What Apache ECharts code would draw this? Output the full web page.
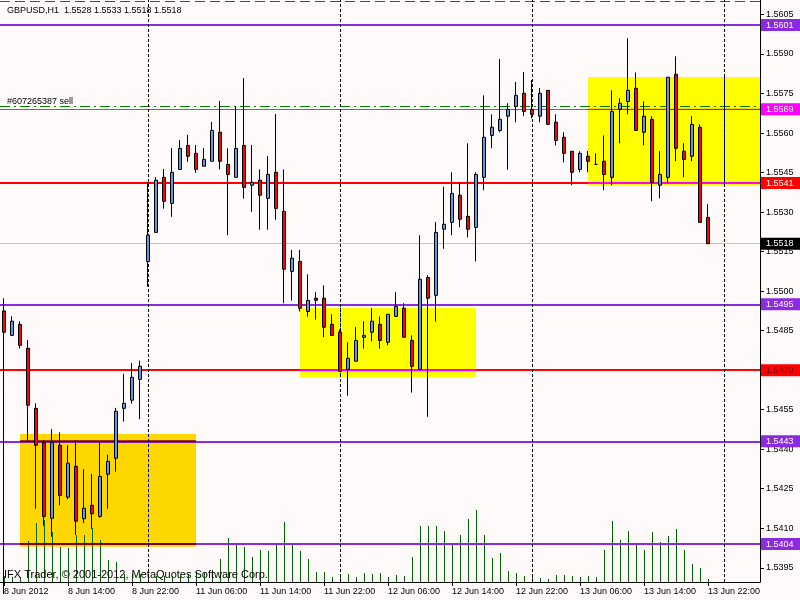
<!DOCTYPE html>
<html><head><meta charset="utf-8">
<script src="https://cdn.jsdelivr.net/npm/echarts@6/dist/echarts.min.js"></script>
<style>html,body{margin:0;padding:0;background:#fffafa;}#c{width:800px;height:600px;}</style>
</head><body><div id="c"></div>
<script>
// ---------------- DATA ----------------
const headerText = 'GBPUSD,H1  1.5528 1.5533 1.5518 1.5518';
const copyrightText = 'IFX Trader, \u00a9 2001-2012, MetaQuotes Software Corp.';
const orderLabel = '#607265387 sell';

const opens = [1.54925,1.54832,1.54874,1.54783,1.54555,1.54425,1.54138,1.54415,1.54218,1.54335,
1.54136,1.54187,1.54145,1.54305,1.54366,1.54555,1.54586,1.54665,1.55112,1.55223,
1.55432,1.55333,1.55462,1.55553,1.55523,1.55474,1.55493,1.55603,1.55481,1.55432,
1.55553,1.55402,1.55421,1.55352,1.55451,1.55303,1.55075,1.55113,1.54923,1.54973,
1.54973,1.54874,1.54844,1.54703,1.54734,1.54825,1.54844,1.54874,1.54806,1.54904,
1.54935,1.54813,1.54703,1.55052,1.54984,1.55235,1.55261,1.55364,1.55284,1.55242,
1.55432,1.55591,1.55610,1.55664,1.55701,1.55751,1.55690,1.55664,1.55762,1.55641,
1.55584,1.55531,1.55462,1.55512,1.55481,1.55493,1.55432,1.55690,1.55720,1.55770,
1.55603,1.55652,1.55402,1.55432,1.55823,1.55531,1.55512,1.55622,1.55280];
const highs = [1.54973,1.54904,1.54886,1.54815,1.54574,1.54435,1.54476,1.54464,1.54415,1.54435,
1.54324,1.54306,1.54427,1.54379,1.54557,1.54686,1.54727,1.54736,1.55413,1.55433,
1.55464,1.55543,1.55574,1.55593,1.55555,1.55543,1.55642,1.55722,1.55542,1.55703,
1.55809,1.55555,1.55462,1.55513,1.55672,1.55462,1.55156,1.55156,1.55064,1.54996,
1.55022,1.54912,1.54855,1.54806,1.54863,1.54886,1.54935,1.54904,1.54912,1.54996,
1.54954,1.54832,1.55212,1.55060,1.55262,1.55396,1.55451,1.55413,1.55561,1.55451,
1.55743,1.55671,1.55881,1.55713,1.55794,1.55832,1.55801,1.55771,1.55762,1.55671,
1.55603,1.55531,1.55531,1.55532,1.55523,1.55591,1.55762,1.55732,1.55960,1.55830,
1.55720,1.55664,1.55531,1.55812,1.55891,1.55561,1.55664,1.55633,1.55330];
const lows = [1.53850,1.54832,1.54782,1.54432,1.54174,1.54109,1.54068,1.54187,1.54210,1.54075,
1.54120,1.54098,1.54140,1.54174,1.54315,1.54505,1.54573,1.54514,1.55017,1.55223,
1.55313,1.55282,1.55462,1.55491,1.55449,1.55474,1.55493,1.55462,1.55212,1.55432,
1.55351,1.55301,1.55233,1.55233,1.55271,1.54954,1.54964,1.54923,1.54903,1.54892,
1.54825,1.54832,1.54696,1.54603,1.54734,1.54782,1.54810,1.54782,1.54794,1.54904,
1.54825,1.54615,1.54703,1.54523,1.54884,1.55161,1.55212,1.55242,1.55204,1.55113,
1.55383,1.55542,1.55603,1.55461,1.55641,1.55664,1.55656,1.55641,1.55633,1.55553,
1.55489,1.55402,1.55451,1.55451,1.55478,1.55383,1.55402,1.55561,1.55671,1.55610,
1.55553,1.55341,1.55352,1.55413,1.55493,1.55432,1.55493,1.55261,1.55180];
const closes = [1.54844,1.54886,1.54794,1.54567,1.54415,1.54145,1.54425,1.54225,1.54347,1.54127,
1.54176,1.54155,1.54297,1.54354,1.54544,1.54574,1.54673,1.54715,1.55212,1.55421,
1.55341,1.55451,1.55542,1.55512,1.55462,1.55500,1.55610,1.55493,1.55443,1.55542,
1.55394,1.55413,1.55364,1.55443,1.55314,1.55083,1.55125,1.54935,1.54965,1.54965,
1.54863,1.54832,1.54696,1.54745,1.54813,1.54832,1.54886,1.54813,1.54912,1.54942,
1.54825,1.54715,1.55045,1.54973,1.55223,1.55254,1.55371,1.55273,1.55235,1.55443,
1.55584,1.55622,1.55652,1.55690,1.55743,1.55682,1.55671,1.55751,1.55633,1.55572,
1.55523,1.55451,1.55523,1.55493,1.55481,1.55443,1.55682,1.55713,1.55762,1.55610,
1.55664,1.55413,1.55443,1.55812,1.55542,1.55500,1.55633,1.55261,1.55180];
const tickVolumes = [60,50,50,410,590,620,500,350,340,470,
470,540,420,220,200,80,80,80,80,60,
60,60,60,80,100,100,120,230,440,390,
350,250,320,310,380,600,390,310,230,100,
100,50,70,80,50,90,80,90,50,70,
60,250,560,560,560,510,370,470,630,720,
470,240,290,110,90,60,60,40,30,70,
70,60,50,60,50,320,610,420,510,390,
320,500,400,460,530,320,180,140,30];

const timeTickLabels = ['8 Jun 2012','8 Jun 14:00','8 Jun 22:00','11 Jun 06:00','11 Jun 14:00','11 Jun 22:00',
  '12 Jun 06:00','12 Jun 14:00','12 Jun 22:00','13 Jun 06:00','13 Jun 14:00','13 Jun 22:00'];
const priceTickLabels = ['1.5395','1.5410','1.5425','1.5440','1.5455','1.5470','1.5485','1.5500',
  '1.5515','1.5530','1.5545','1.5560','1.5575','1.5590','1.5605'];

const levelPrices = [1.5601, 1.5569, 1.5541, 1.5518, 1.5495, 1.5470, 1.5443, 1.5404];
const orderPrice = 1.5570;
const topDashPrice = 1.56095;
const daySeparators = [18, 42, 66, 90];
// rectangles: [first bar, last bar, top price, bottom price]
const boxes = [[2, 24, 1.54458, 1.54030], [37, 59, 1.54937, 1.54671], [73, 94, 1.55813, 1.55400]];
// level segments inside a rectangle that show in another colour: [box, price]
const boxLevelSwaps = [[0, 1.5443], [0, 1.5404], [1, 1.5470], [2, 1.5541], [2, 1.5569]];

// ---------------- STYLES ----------------
const FONT = '"Liberation Sans", Arial, sans-serif';
const PURPLE = '#8a2be2', RED = '#ff0000', MAGENTA = '#ff00ff';
const levelStyles = [
  {c: PURPLE, w: 2, bg: PURPLE, fg: '#fff'},
  {c: MAGENTA, w: 1, bg: MAGENTA, fg: '#fff'},
  {c: RED, w: 2, bg: RED, fg: '#fff'},
  {c: '#c0c0c0', w: 1, bg: '#000', fg: '#fff'},
  {c: PURPLE, w: 2, bg: PURPLE, fg: '#fff'},
  {c: RED, w: 2, bg: RED, fg: '#5a0000'},
  {c: PURPLE, w: 2, bg: PURPLE, fg: '#fff'},
  {c: PURPLE, w: 2, bg: PURPLE, fg: '#fff'}
];
const boxColors = ['#ffd700', '#ffff00', '#ffff00'];
const swapStyles = [{c: '#800000', w: 2}, {c: '#800000', w: 2}, {c: MAGENTA, w: 2}, {c: MAGENTA, w: 2}, {c: RED, w: 1}];

// ---------------- BUILD ----------------
const NSLOTS = 95;
const categories = [];
(function () {
  let t = Date.UTC(2012, 5, 8, 6);
  const pad = n => (n < 10 ? '0' : '') + n;
  while (categories.length < NSLOTS) {
    const d = new Date(t);
    const wd = d.getUTCDay();
    if (wd !== 0 && wd !== 6) {
      categories.push(d.getUTCFullYear() + '.' + pad(d.getUTCMonth() + 1) + '.' + pad(d.getUTCDate()) + ' ' + pad(d.getUTCHours()) + ':00');
    }
    t += 3600000;
  }
})();
const ohlc = opens.map((o, i) => [o, closes[i], lows[i], highs[i]]);
const yTicks = priceTickLabels.map(Number);
const yMin = 1.53896, yMax = 1.56105;

const markData = [];
levelPrices.forEach((p, i) => {
  const s = levelStyles[i];
  markData.push({
    yAxis: p,
    lineStyle: {color: s.c, width: s.w, type: 'solid'},
    label: {show: true, position: 'end', distance: 1, formatter: p.toFixed(4),
      backgroundColor: s.bg, color: s.fg, fontSize: 9, fontFamily: FONT, padding: [1, 8, 1, 5], lineHeight: 10}
  });
});
markData.push({
  yAxis: orderPrice,
  lineStyle: {color: '#008000', width: 1, type: [10, 4, 2, 4]},
  label: {show: true, position: 'insideStartTop', formatter: orderLabel, color: '#000',
    fontSize: 9, fontFamily: FONT, distance: [7, 1]}
});
markData.push({yAxis: topDashPrice, lineStyle: {color: RED, width: 1, type: [10, 5]}, label: {show: false}});
daySeparators.forEach(ix => markData.push({xAxis: ix, lineStyle: {color: '#000', width: 1, type: [3, 2]}, label: {show: false}}));

const overlayItems = [];
boxLevelSwaps.forEach((sw, k) => overlayItems.push({kind: 'h', box: sw[0], price: sw[1], style: swapStyles[k]}));
boxes.forEach((b, bi) => daySeparators.forEach(ix => { if (ix >= b[0] && ix <= b[1]) overlayItems.push({kind: 'v', box: bi, ix: ix}); }));

function boxXRange(b, api, params) {
  const x0 = api.coord([b[0], b[2]])[0];
  const cs = params.coordSys;
  const x1 = b[1] >= NSLOTS - 1 ? cs.x + cs.width : api.coord([b[1], b[2]])[0];
  return [x0, x1];
}

const chart = echarts.init(document.getElementById('c'), null, {renderer: 'canvas'});
chart.setOption({
  backgroundColor: '#fffafa',
  animation: false,
  grid: {left: 0, right: 40, top: 0, bottom: 18},
  xAxis: {
    type: 'category', data: categories, boundaryGap: true,
    axisLine: {show: true, lineStyle: {color: '#000', width: 1}},
    axisTick: {show: true, alignWithLabel: true, interval: 7, length: 4, lineStyle: {color: '#000'}},
    axisLabel: {interval: 7, align: 'left', margin: 5, color: '#000', fontSize: 9, fontFamily: FONT,
      formatter: (v, i) => (i % 8 === 0 && timeTickLabels[i / 8]) ? timeTickLabels[i / 8] : ''},
    splitLine: {show: false}
  },
  yAxis: [{
    type: 'value', position: 'right', min: yMin, max: yMax,
    axisLine: {show: true, lineStyle: {color: '#000', width: 1}},
    axisTick: {show: true, length: 4, customValues: yTicks, lineStyle: {color: '#000'}},
    axisLabel: {customValues: yTicks, formatter: v => v.toFixed(4), color: '#000', fontSize: 9, fontFamily: FONT, margin: 6},
    splitLine: {show: false}
  }, {
    type: 'value', show: false, min: 0, max: 5820, splitLine: {show: false}
  }],
  graphic: [
    {type: 'text', left: 7, top: 6, z: 100, style: {text: headerText, font: '9px ' + FONT, fill: '#000'}},
    {type: 'text', left: 4, top: 569, z: 100, style: {text: copyrightText, font: '11px ' + FONT, fill: '#000'}}
  ],
  series: [
    {
      type: 'custom', name: 'boxes', z: 1, clip: true, silent: true,
      data: boxes, encode: {x: 0, y: 2},
      renderItem: (params, api) => {
        const b = boxes[params.dataIndex];
        const xr = boxXRange(b, api, params);
        const yt = api.coord([b[0], b[2]])[1], yb = api.coord([b[0], b[3]])[1];
        return {type: 'rect', shape: {x: xr[0], y: yt, width: xr[1] - xr[0], height: yb - yt},
          style: {fill: boxColors[params.dataIndex]}};
      }
    },
    {
      type: 'custom', name: 'volume', z: 2, yAxisIndex: 1, clip: true, silent: true,
      data: tickVolumes.map((v, i) => [i, v]), encode: {x: 0, y: 1},
      renderItem: (params, api) => {
        const p = api.coord([api.value(0), api.value(1)]);
        const p0 = api.coord([api.value(0), 0]);
        const x = Math.round(p[0]) + 0.5;
        return {type: 'line', shape: {x1: x, y1: p0[1], x2: x, y2: p[1]}, style: {stroke: '#006400', lineWidth: 1}};
      }
    },
    {
      type: 'custom', name: 'overlay', z: 4, clip: true, silent: true,
      data: overlayItems.map((o, i) => [i, 0]), encode: {x: 0, y: 1},
      renderItem: (params, api) => {
        const o = overlayItems[params.dataIndex];
        const b = boxes[o.box];
        const xr = boxXRange(b, api, params);
        if (o.kind === 'h') {
          const y = api.coord([b[0], o.price])[1];
          return {type: 'line', shape: {x1: xr[0], y1: y, x2: xr[1], y2: y}, style: {stroke: o.style.c, lineWidth: o.style.w}};
        }
        const x = Math.round(api.coord([o.ix, b[2]])[0]) + 0.5;
        const yt = api.coord([o.ix, b[2]])[1], yb = api.coord([o.ix, b[3]])[1];
        return {type: 'line', shape: {x1: x, y1: yt, x2: x, y2: yb}, style: {stroke: '#0000a0', lineWidth: 1, lineDash: [3, 2]}};
      }
    },
    {
      type: 'candlestick', name: 'GBPUSD', z: 5, data: ohlc, barWidth: 3, clip: true,
      itemStyle: {color: '#6495ed', color0: '#ff0000', borderColor: '#000', borderColor0: '#000', borderWidth: 1},
      markLine: {silent: true, z: 3, symbol: ['none', 'none'], animation: false, precision: 4, data: markData}
    }
  ]
});
</script></body></html>
